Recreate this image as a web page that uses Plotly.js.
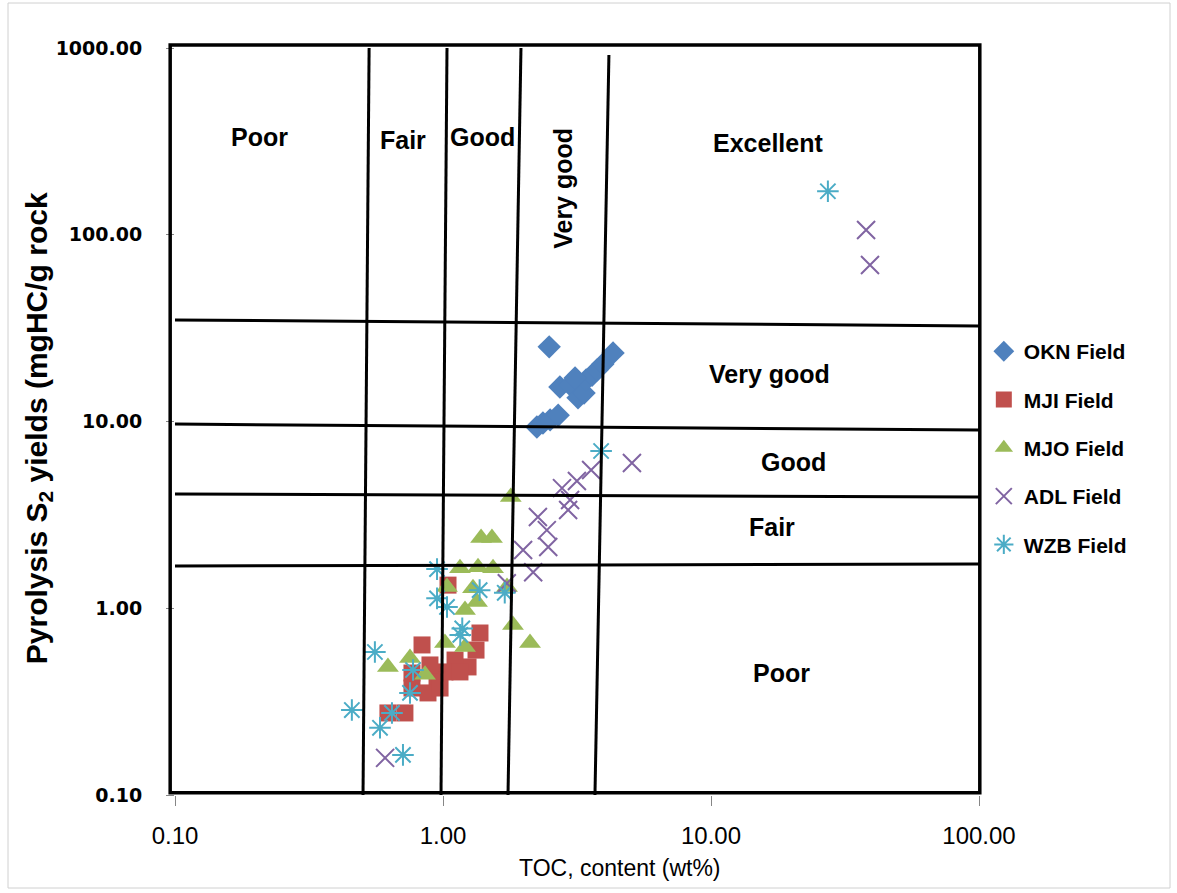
<!DOCTYPE html>
<html>
<head>
<meta charset="utf-8">
<script src="https://cdn.plot.ly/plotly-3.0.1.min.js"></script>
<style>html,body{margin:0;padding:0;background:#fff;}#chart{width:1177px;height:893px;}</style>
</head>
<body>
<div id="chart"></div>
<script>
// ---- Data (TOC wt%, S2 mgHC/g rock) ----
const seriesNames = ['OKN Field', 'MJI Field', 'MJO Field', 'ADL Field', 'WZB Field'];

const oknTOC = [2.49, 2.24, 2.36, 2.51, 2.69, 2.73, 2.98, 3.19, 3.36, 3.42, 3.60, 3.76, 3.95, 4.31, 3.11];
const oknS2  = [25.1, 9.35, 9.82, 10.2, 10.8, 15.3, 15.7, 13.4, 14.2, 16.7, 17.7, 18.9, 20.3, 23.3, 17.1];

const mjiTOC = [1.044, 1.374, 0.835, 1.328, 1.24, 1.109, 1.017, 0.95, 0.766, 0.766, 0.879, 0.975, 0.623, 0.721, 1.157, 0.894];
const mjiS2  = [1.33, 0.737, 0.636, 0.597, 0.485, 0.528, 0.456, 0.413, 0.45, 0.374, 0.352, 0.374, 0.275, 0.275, 0.456, 0.497];

const mjoTOC = [1.79, 1.387, 1.523, 1.157, 1.351, 1.537, 1.035, 1.294, 1.339, 1.208, 1.017, 1.208, 1.824, 2.112, 0.623, 0.753, 0.857, 1.733];
const mjoS2  = [3.94, 2.38, 2.38, 1.64, 1.66, 1.64, 1.30, 1.28, 1.08, 0.98, 0.652, 0.62, 0.813, 0.652, 0.485, 0.542, 0.44, 1.30];

const adlTOC = [5.07, 3.57, 3.16, 2.78, 2.98, 2.93, 2.26, 2.44, 2.47, 1.99, 2.17, 1.73, 0.608, 37.9, 39.2];
const adlS2  = [6.0, 5.5, 4.8, 4.4, 3.8, 3.36, 3.08, 2.62, 2.13, 2.05, 1.56, 1.36, 0.158, 106, 68.9];

const wzbTOC = [27.3, 3.89, 0.95, 0.95, 1.035, 1.37, 1.70, 1.18, 1.16, 0.557, 0.773, 0.753, 0.645, 0.457, 0.582, 0.709];
const wzbS2  = [171, 6.95, 1.62, 1.13, 1.016, 1.25, 1.21, 0.78, 0.72, 0.583, 0.467, 0.352, 0.275, 0.285, 0.229, 0.164];

// Classification boundary lines (hand-drawn in original, slightly slanted)
const tocBoundTopX = [0.530, 1.035, 1.954, 4.16];
const tocBoundTopY = [1000, 1000, 1000, 917];
const tocBoundBotX = [0.503, 0.983, 1.748, 3.69];
const tocBoundBotY = [0.1, 0.1, 0.1, 0.1];
const s2BoundLeftY  = [35.0, 9.69, 4.09, 1.683];
const s2BoundRightY = [32.5, 9.0, 3.94, 1.726];
const s2BoundXLeft = 0.1, s2BoundXRight = 100;

// Zone labels
const tocZoneLabels = ['Poor', 'Fair', 'Good', 'Very good', 'Excellent'];
const tocZoneX = [0.2075, 0.709, 1.398, 2.80, 16.3];
const tocZoneY = [334, 321, 334, 178, 310];
const s2ZoneLabels = ['Very good', 'Good', 'Fair', 'Poor'];
const s2ZoneX = [16.6, 20.4, 16.9, 18.4];
const s2ZoneY = [18.0, 6.07, 2.72, 0.45];

// Axis ticks and titles
const xTickVals = [0.1, 1, 10, 100];
const xTickText = ['0.10', '1.00', '10.00', '100.00'];
const yTickVals = [0.1, 1, 10, 100, 1000];
const yTickText = ['0.10', '1.00', '10.00', '100.00', '1000.00'];
const xTitle = 'TOC, content (wt%)';
const yTitle = 'Pyrolysis S<sub>2</sub> yields (mgHC/g rock';

// ---- Traces ----
const styles = [
  {symbol: 'diamond', color: '#4F81BD', size: 18},
  {symbol: 'square', color: '#C0504D', size: 17},
  {symbol: 'triangle-up', color: '#9BBB59', size: 19},
  {symbol: 'x-thin-open', color: '#8064A2', size: 18, line: 2},
  {symbol: 'asterisk-open', color: '#4BACC6', size: 18, line: 2}
];
const xs = [oknTOC, mjiTOC, mjoTOC, adlTOC, wzbTOC];
const ys = [oknS2, mjiS2, mjoS2, adlS2, wzbS2];

const traces = [];
for (let i = 0; i < seriesNames.length; i++) {
  const s = styles[i];
  const m = {symbol: s.symbol, color: s.color, size: s.size};
  if (s.line) m.line = {color: s.color, width: s.line};
  else m.line = {width: 0};
  traces.push({
    type: 'scatter', mode: 'markers', name: seriesNames[i],
    x: xs[i], y: ys[i], marker: m, legendgroup: 'g' + i, hoverinfo: 'x+y'
  });
}
for (let i = 0; i < tocBoundTopX.length; i++) {
  traces.push({
    type: 'scatter', mode: 'lines', showlegend: false, hoverinfo: 'skip',
    x: [tocBoundBotX[i], tocBoundTopX[i]], y: [tocBoundBotY[i], tocBoundTopY[i]],
    line: {color: '#000', width: 3}
  });
}
for (let i = 0; i < s2BoundLeftY.length; i++) {
  traces.push({
    type: 'scatter', mode: 'lines', showlegend: false, hoverinfo: 'skip',
    x: [s2BoundXLeft, s2BoundXRight], y: [s2BoundLeftY[i], s2BoundRightY[i]],
    line: {color: '#000', width: 3}
  });
}

const labelFont = {family: '"Liberation Sans", Arial, sans-serif', size: 25, color: '#000', weight: 'bold'};
const annotations = [];
tocZoneLabels.forEach((t, i) => {
  annotations.push({
    x: Math.log10(tocZoneX[i]), y: Math.log10(tocZoneY[i]), xref: 'x', yref: 'y',
    text: t, showarrow: false, font: labelFont, textangle: t === 'Very good' ? -90 : 0
  });
});
s2ZoneLabels.forEach((t, i) => {
  annotations.push({
    x: Math.log10(s2ZoneX[i]), y: Math.log10(s2ZoneY[i]), xref: 'x', yref: 'y',
    text: t, showarrow: false, font: labelFont
  });
});
// axis titles (placed as in the reference)
annotations.push({
  x: 0.553, y: -0.098, xref: 'paper', yref: 'paper', xanchor: 'center', yanchor: 'middle',
  text: xTitle, showarrow: false,
  font: {family: '"Liberation Sans", Arial, sans-serif', size: 23, color: '#000'}
});
annotations.push({
  x: -0.1704, y: 0.491, xref: 'paper', yref: 'paper', xanchor: 'center', yanchor: 'middle',
  text: yTitle, showarrow: false, textangle: -90,
  font: {family: '"Liberation Sans", Arial, sans-serif', size: 30, color: '#000', weight: 'bold'}
});

const layout = {
  width: 1177, height: 893,
  margin: {l: 175, r: 198, t: 48, b: 98},
  paper_bgcolor: '#fff', plot_bgcolor: '#fff',
  showlegend: true,
  legend: {
    x: 1.006, y: 0.621, xanchor: 'left', yanchor: 'top',
    font: {family: '"Liberation Sans", Arial, sans-serif', size: 21, color: '#000', weight: 'bold'},
    tracegroupgap: 18, itemwidth: 30, bgcolor: 'rgba(0,0,0,0)'
  },
  xaxis: {
    type: 'log', range: [-1, 2],
    tickvals: xTickVals, ticktext: xTickText,
    ticks: 'outside', ticklen: 10, tickcolor: '#868686', tickwidth: 1,
    showgrid: false, zeroline: false, showline: false,
    tickfont: {family: '"Liberation Sans", Arial, sans-serif', size: 24, color: '#000'},
    ticklabelstandoff: 9
  },
  yaxis: {
    type: 'log', range: [-1, 3],
    tickvals: yTickVals, ticktext: yTickText,
    ticks: 'outside', ticklen: 8, tickcolor: '#868686', tickwidth: 1,
    showgrid: false, zeroline: false, showline: false,
    tickfont: {family: '"DejaVu Sans", Verdana, sans-serif', size: 19, color: '#000', weight: 'bold'},
    ticklabelstandoff: 20
  },
  annotations: annotations,
  shapes: [
    {type: 'rect', xref: 'paper', yref: 'paper', x0: -0.006, x1: 1.001, y0: 0.003, y1: 1.004,
     line: {color: '#000', width: 3.5}, fillcolor: 'rgba(0,0,0,0)', layer: 'above'},
    {type: 'rect', xref: 'paper', yref: 'paper', x0: -0.2077, x1: 1.2376, y0: -0.1245, y1: 1.0602,
     line: {color: '#d0d0d0', width: 1}, fillcolor: 'rgba(0,0,0,0)', layer: 'below'}
  ]
};

Plotly.newPlot('chart', traces, layout, {displayModeBar: false, staticPlot: true});
</script>
</body>
</html>
